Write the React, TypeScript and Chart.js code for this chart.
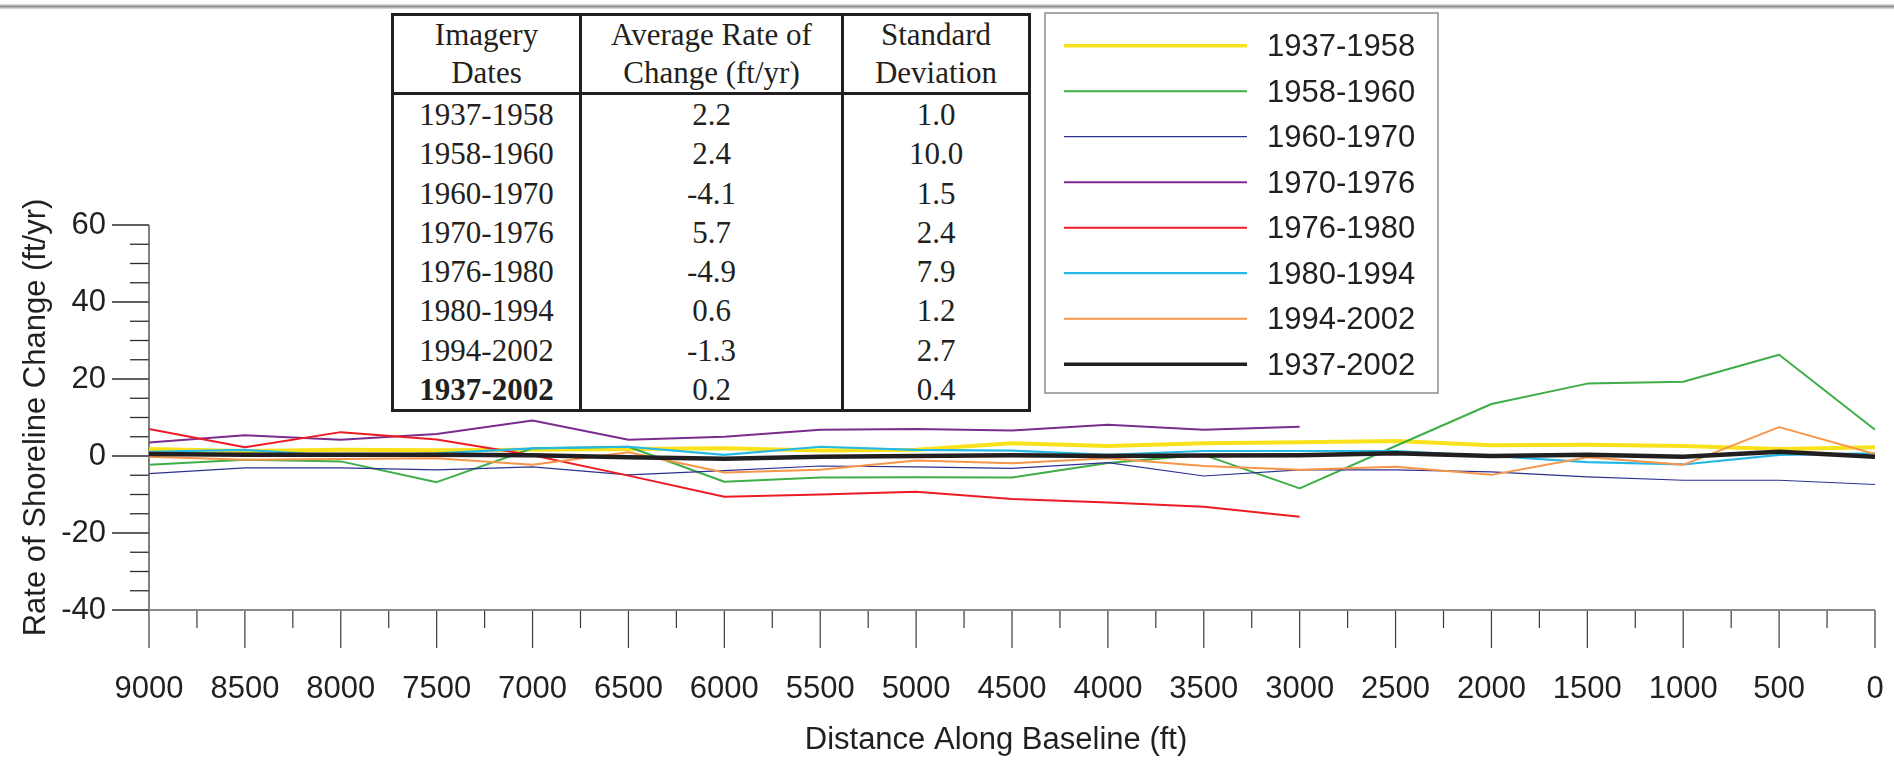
import React, { useEffect, useRef } from 'react';
import { Chart, registerables } from 'chart.js';

Chart.register(...registerables);

// ---------------- DATA ----------------
const distances = [9000, 8500, 8000, 7500, 7000, 6500, 6000, 5500, 5000, 4500, 4000, 3500, 3000, 2500, 2000, 1500, 1000, 500, 0];

const rate1937_1958 = [1.8, 1.3, 1.6, 1.5, 1.6, 1.8, 2.0, 1.4, 1.6, 3.3, 2.6, 3.3, 3.6, 3.9, 2.8, 2.9, 2.6, 1.8, 2.3];
const rate1958_1960 = [-2.3, -1.0, -1.4, -6.8, 2.0, 2.4, -6.7, -5.6, -5.5, -5.6, -1.8, 0.3, -8.4, 2.6, 13.5, 18.8, 19.3, 26.3, 6.8];
const rate1960_1970 = [-4.6, -3.1, -3.1, -3.6, -2.8, -4.9, -3.8, -2.6, -2.8, -3.2, -1.7, -5.2, -3.6, -3.6, -4.1, -5.4, -6.3, -6.3, -7.4];
const rate1970_1976 = [3.5, 5.4, 4.2, 5.7, 9.2, 4.2, 5.0, 6.8, 7.0, 6.6, 8.1, 6.8, 7.6, null, null, null, null, null, null];
const rate1976_1980 = [7.0, 2.3, 6.2, 4.3, 0.2, -5.1, -10.6, -10.0, -9.3, -11.2, -12.1, -13.2, -15.8, null, null, null, null, null, null];
const rate1980_1994 = [1.1, 1.6, 0.0, 0.7, 2.0, 2.4, 0.3, 2.4, 1.6, 1.4, 0.3, 1.3, 1.3, 1.3, 0.0, -1.6, -2.2, 0.3, 0.7];
const rate1994_2002 = [-0.2, -1.0, -0.8, -0.6, -2.3, 1.0, -4.3, -3.6, -1.2, -1.9, -0.6, -2.6, -3.6, -2.8, -4.9, -0.3, -2.3, 7.5, 0.5];
const rate1937_2002 = [0.5, 0.3, 0.3, 0.3, 0.2, -0.3, -0.7, -0.2, 0.0, 0.2, 0.0, 0.1, 0.2, 0.7, 0.0, 0.3, -0.2, 1.1, -0.2];

const seriesLabels = ['1937-1958', '1958-1960', '1960-1970', '1970-1976', '1976-1980', '1980-1994', '1994-2002', '1937-2002'];
const seriesValues = [rate1937_1958, rate1958_1960, rate1960_1970, rate1970_1976, rate1976_1980, rate1980_1994, rate1994_2002, rate1937_2002];
const seriesColors = ['#f9e21c', '#3fae49', '#2e3192', '#7b2d8e', '#ed1c24', '#27b9e5', '#f7964a', '#231f20'];
const seriesWidths = [4, 2, 1.2, 2, 2, 2.2, 2, 4.5];
const seriesOrder = [7, 6, 5, 4, 3, 2, 1, 0];

const tableHeader = [['Imagery', 'Dates'], ['Average Rate of', 'Change (ft/yr)'], ['Standard', 'Deviation']];
const tablePeriods = ['1937-1958', '1958-1960', '1960-1970', '1970-1976', '1976-1980', '1980-1994', '1994-2002', '1937-2002'];
const tableAvgRates = ['2.2', '2.4', '-4.1', '5.7', '-4.9', '0.6', '-1.3', '0.2'];
const tableStdDevs = ['1.0', '10.0', '1.5', '2.4', '7.9', '1.2', '2.7', '0.4'];

const xTitle = 'Distance Along Baseline (ft)';
const yTitle = 'Rate of Shoreline Change (ft/yr)';

// ---------------- STYLE ----------------
const TEXT = '#231f20';
const SANS = '"Liberation Sans", Arial, sans-serif';
const SERIF = '"Liberation Serif", "Times New Roman", serif';
const FONT_SIZE = 31;

const axesPlugin = {
  id: 'axesDecor',
  beforeDatasetsDraw(chart: any) {
    const { ctx, chartArea } = chart;
    const xs = chart.scales.x;
    const ys = chart.scales.y;
    ctx.save();
    // y ticks
    ctx.strokeStyle = '#2b2b2b';
    ctx.lineWidth = 1.3;
    ys.ticks.forEach((t: any) => {
      const py = ys.getPixelForValue(t.value);
      const len = t.value % 20 === 0 ? 37 : 19;
      ctx.beginPath();
      ctx.moveTo(chartArea.left - len, py);
      ctx.lineTo(chartArea.left, py);
      ctx.stroke();
    });
    // x ticks
    ctx.strokeStyle = '#3a3a3a';
    ctx.lineWidth = 1.2;
    xs.ticks.forEach((t: any) => {
      const px = xs.getPixelForValue(t.value);
      const len = t.value % 500 === 0 ? 38 : 18;
      ctx.beginPath();
      ctx.moveTo(px, chartArea.bottom);
      ctx.lineTo(px, chartArea.bottom + len);
      ctx.stroke();
    });
    // axis lines
    ctx.strokeStyle = '#555555';
    ctx.lineWidth = 1.5;
    ctx.beginPath();
    ctx.moveTo(chartArea.left, chartArea.top);
    ctx.lineTo(chartArea.left, chartArea.bottom);
    ctx.stroke();
    ctx.strokeStyle = '#8a8a8a';
    ctx.lineWidth = 2;
    ctx.beginPath();
    ctx.moveTo(chartArea.left, chartArea.bottom);
    ctx.lineTo(chartArea.right, chartArea.bottom);
    ctx.stroke();
    ctx.restore();
  },
  afterDraw(chart: any) {
    const { ctx, chartArea } = chart;
    ctx.save();
    // x-axis title (slightly left of the plot centre, as in the original)
    ctx.font = `${FONT_SIZE}px ${SANS}`;
    ctx.fillStyle = TEXT;
    ctx.textAlign = 'center';
    ctx.textBaseline = 'middle';
    ctx.fillText(xTitle, (chartArea.left + chartArea.right) / 2 - 16, 740);
    // legend
    ctx.strokeStyle = '#8c8c8c';
    ctx.lineWidth = 1.5;
    ctx.strokeRect(1045, 13, 393, 380);
    ctx.textAlign = 'left';
    chart.data.datasets.forEach((ds: any, i: number) => {
      const yy = 45.7 + i * 45.5;
      ctx.strokeStyle = ds.borderColor;
      ctx.lineWidth = Math.min(ds.borderWidth, 3.5);
      ctx.beginPath();
      ctx.moveTo(1064, yy);
      ctx.lineTo(1247, yy);
      ctx.stroke();
      ctx.fillStyle = TEXT;
      ctx.fillText(ds.label, 1267, yy + 2);
    });
    ctx.restore();
  },
};

function DataTable() {
  const border = `3px solid ${TEXT}`;
  const colW = [185, 259, 184];
  const cell = (i: number): React.CSSProperties => ({
    width: colW[i],
    flex: 'none',
    textAlign: 'center',
    borderRight: i < 2 ? border : 'none',
    whiteSpace: 'nowrap',
  });
  return (
    <div
      style={{
        position: 'absolute',
        left: 391,
        top: 13,
        width: 640,
        boxSizing: 'border-box',
        border,
        fontFamily: SERIF,
        fontSize: 31,
        color: TEXT,
        background: '#fff',
      }}
    >
      <div style={{ display: 'flex', borderBottom: border, lineHeight: '38px' }}>
        {tableHeader.map((h, i) => (
          <div key={i} style={cell(i)}>
            {h[0]}
            <br />
            {h[1]}
          </div>
        ))}
      </div>
      {tablePeriods.map((p, r) => (
        <div key={p + r} style={{ display: 'flex', lineHeight: '39.3px' }}>
          <div style={{ ...cell(0), fontWeight: r === tablePeriods.length - 1 ? 'bold' : 'normal' }}>{p}</div>
          <div style={cell(1)}>{tableAvgRates[r]}</div>
          <div style={cell(2)}>{tableStdDevs[r]}</div>
        </div>
      ))}
    </div>
  );
}

export default function App() {
  const canvasRef = useRef<HTMLCanvasElement | null>(null);

  useEffect(() => {
    if (!canvasRef.current) return;
    Chart.defaults.font.family = SANS;
    Chart.defaults.color = TEXT;
    const datasets = seriesLabels.map((label, i) => ({
      label,
      data: distances
        .map((d, j) => ({ x: d, y: seriesValues[i][j] }))
        .filter((p) => p.y !== null && p.y !== undefined),
      borderColor: seriesColors[i],
      backgroundColor: seriesColors[i],
      borderWidth: seriesWidths[i],
      pointRadius: 0,
      tension: 0,
      fill: false,
      order: seriesOrder[i],
      borderJoinStyle: 'round' as const,
    }));

    const chart = new Chart(canvasRef.current, {
      type: 'line',
      data: { datasets },
      plugins: [axesPlugin],
      options: {
        animation: false,
        responsive: false,
        devicePixelRatio: 1,
        layout: { padding: { top: 225, right: 19, left: 0, bottom: 0 } },
        plugins: {
          legend: { display: false },
          tooltip: { enabled: false },
        },
        scales: {
          x: {
            type: 'linear',
            reverse: true,
            min: 0,
            max: 9000,
            grid: { display: false, drawTicks: false },
            border: { display: false },
            ticks: {
              stepSize: 250,
              autoSkip: false,
              maxRotation: 0,
              minRotation: 0,
              padding: 61,
              color: TEXT,
              font: { size: FONT_SIZE, family: SANS },
              callback: (v: any) => (Number(v) % 500 === 0 ? String(v) : ''),
            },
            title: { display: false, text: xTitle },
            afterFit: (scale: any) => {
              scale.height = 151;
              scale.paddingLeft = 0;
              scale.paddingRight = 0;
            },
          },
          y: {
            type: 'linear',
            min: -40,
            max: 60,
            grid: { display: false, drawTicks: false },
            border: { display: false },
            ticks: {
              stepSize: 5,
              autoSkip: false,
              padding: 43,
              color: TEXT,
              font: { size: FONT_SIZE, family: SANS },
              callback: (v: any) => (Number(v) % 20 === 0 ? String(v) : ''),
            },
            title: {
              display: true,
              text: yTitle,
              color: TEXT,
              font: { size: FONT_SIZE, family: SANS },
              padding: { top: 18, bottom: 0 },
            },
            afterFit: (scale: any) => {
              scale.width = 149;
              scale.paddingTop = 0;
              scale.paddingBottom = 0;
            },
          },
        },
      },
    });
    return () => chart.destroy();
  }, []);

  return (
    <div style={{ position: 'absolute', left: 0, top: 0, width: 1894, height: 761, background: '#fff', overflow: 'hidden' }}>
      <div
        style={{
          position: 'absolute',
          left: 0,
          top: 4,
          width: 1894,
          height: 5,
          background: 'linear-gradient(#e6e6e6, #8f8f8f 50%, #e6e6e6)',
        }}
      />
      <canvas ref={canvasRef} width={1894} height={761} style={{ position: 'absolute', left: 0, top: 0 }} />
      <DataTable />
    </div>
  );
}
